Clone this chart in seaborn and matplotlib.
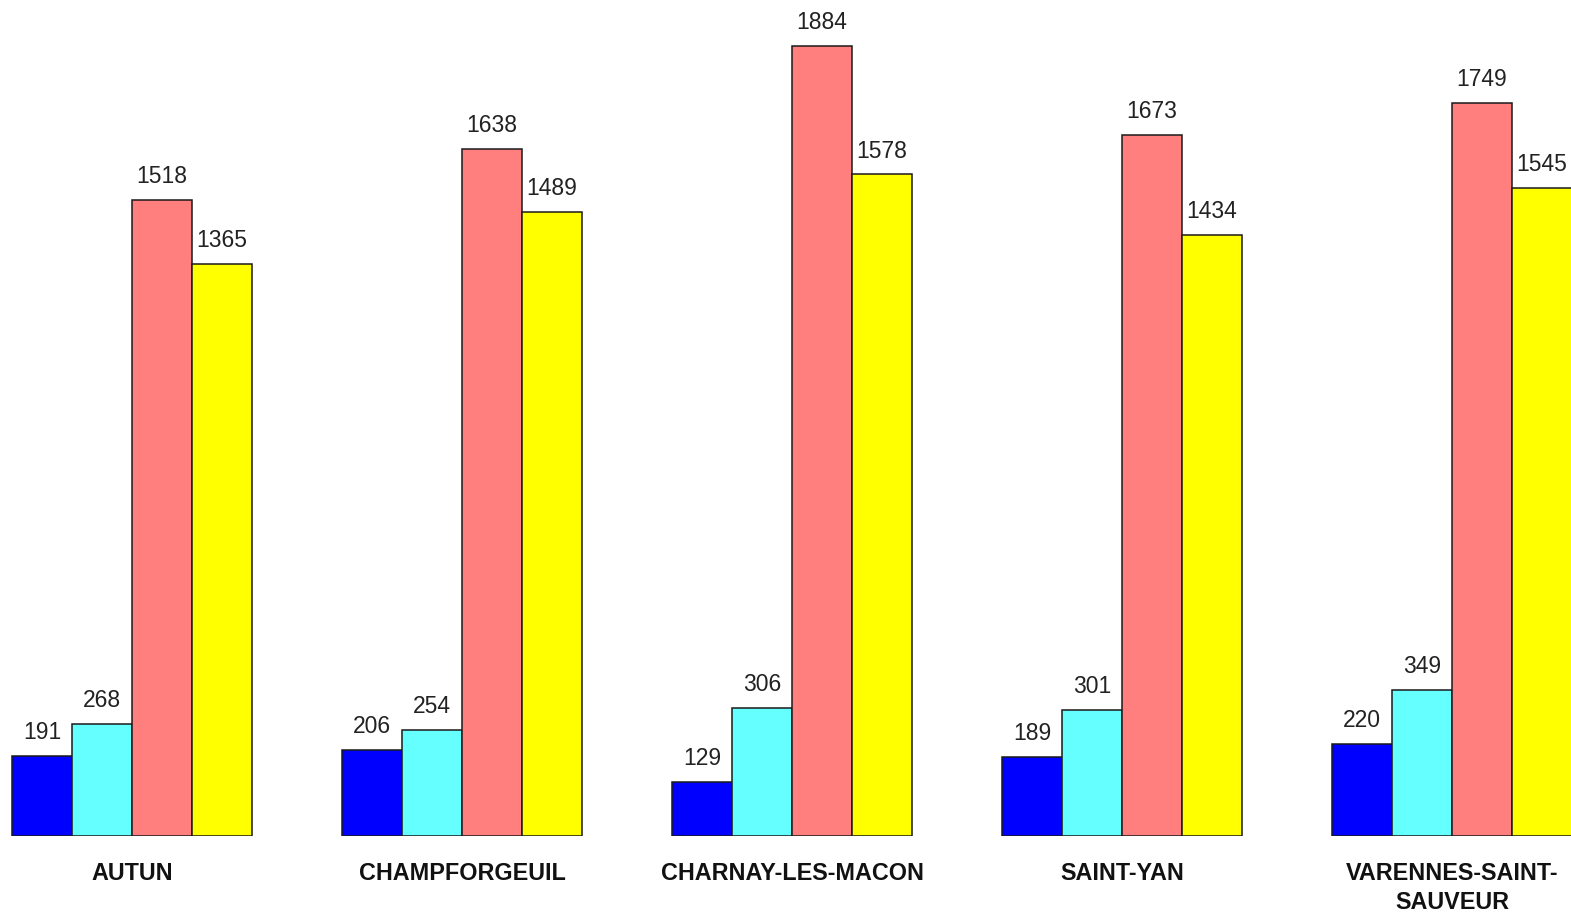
import numpy as np
import pandas as pd
import seaborn as sns
import matplotlib.pyplot as plt

# Data
sites = ["AUTUN", "CHAMPFORGEUIL", "CHARNAY-LES-MACON", "SAINT-YAN", "VARENNES-SAINT-\nSAUVEUR"]
series = ["Série 1", "Série 2", "Série 3", "Série 4"]
serie_1 = [191, 206, 129, 189, 220]
serie_2 = [268, 254, 306, 301, 349]
serie_3 = [1518, 1638, 1884, 1673, 1749]
serie_4 = [1365, 1489, 1578, 1434, 1545]
colors = ["#0000FF", "#66FFFF", "#FF7F7F", "#FFFF00"]

# Long-form table for seaborn
rows = []
for name, vals in zip(series, [serie_1, serie_2, serie_3, serie_4]):
    for site, v in zip(sites, vals):
        rows.append({"site": site, "serie": name, "value": v})
df = pd.DataFrame(rows)

sns.set_theme(style="white")
plt.rcParams['font.family'] = ['Liberation Sans', 'DejaVu Sans']

fig = plt.figure(figsize=(15.71, 9.13), dpi=100)
ax = fig.add_axes([0, (913 - 836) / 913, 1, 836 / 913])

sns.barplot(data=df, x="site", y="value", hue="serie", order=sites, hue_order=series,
            palette=colors, width=0.7273, gap=0, saturation=1, edgecolor="#1a1a1a",
            linewidth=1.1, legend=False, ax=ax)

# Value labels above bars
for cont in ax.containers:
    ax.bar_label(cont, padding=8.5, fontsize=16.5, color="#222222")

ax.set_xlim(-0.4, 4.3606)
ax.set_ylim(0, 1994)
ax.set_xlabel("")
ax.set_ylabel("")
ax.set_yticks([])
ax.tick_params(axis="x", length=0, pad=18.5)
for lab in ax.get_xticklabels():
    lab.set_fontweight("bold")
    lab.set_fontsize(16.8)
    lab.set_color("#111111")
    lab.set_linespacing(1.35)
sns.despine(ax=ax, left=True, bottom=True)

fig.savefig("out.png", dpi=100)
plt.close()
